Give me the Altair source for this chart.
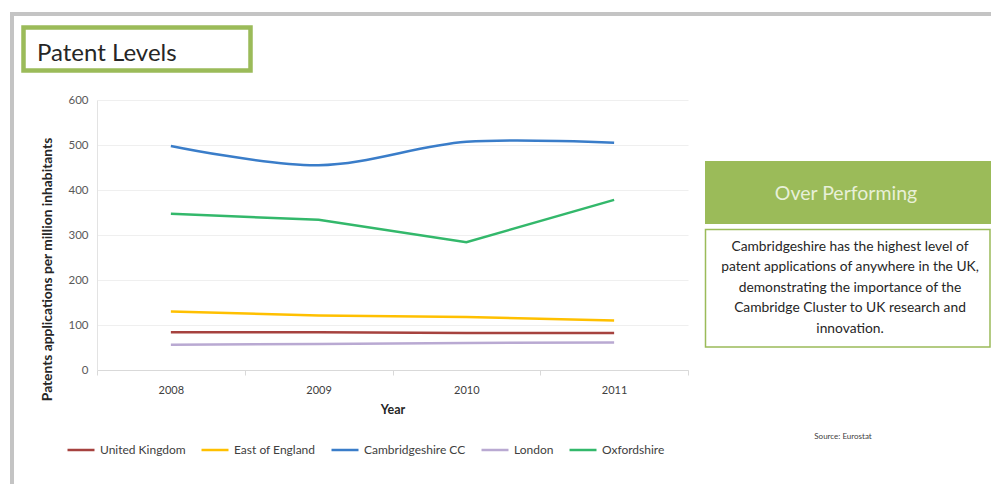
import altair as alt
import pandas as pd

FONT = "Lato"

years = ["2008", "2009", "2010", "2011"]
series_names = ["United Kingdom", "East of England", "Cambridgeshire CC", "London", "Oxfordshire"]
uk = [84, 84, 82, 82]
east = [130, 121, 118, 110]
cambs = [498, 455, 507, 505]
london = [56, 58, 60, 61]
oxford = [347, 334, 284, 378]
colors = ["#A6423F", "#FFC000", "#3A7DC9", "#B9A9D2", "#33B86B"]

y_ticks = [0, 100, 200, 300, 400, 500, 600]

title_text = "Patent Levels"
box_title = "Over Performing"
box_lines = [
    "Cambridgeshire has the highest level of",
    "patent applications of anywhere in the UK,",
    "demonstrating the importance of the",
    "Cambridge Cluster to UK research and",
    "innovation.",
]
source_text = "Source: Eurostat"

rows = []
for name, vals in zip(series_names, [uk, east, cambs, london, oxford]):
    for yr, v in zip(years, vals):
        rows.append({"year": yr, "series": name, "value": v})
df = pd.DataFrame(rows)

color_scale = alt.Scale(domain=series_names, range=colors)

x_enc = alt.X(
    "year:O",
    bandPosition=0.5,
    scale=alt.Scale(type="band", paddingInner=0, paddingOuter=0),
    axis=alt.Axis(
        title="Year", labelAngle=0, tickBand="extent", grid=False,
        domainColor="#D9D9D9", tickColor="#D9D9D9", tickSize=5,
        labelPadding=9, labelFontSize=11, labelColor="#404040", labelFont=FONT,
        titleFont=FONT, titleFontSize=12.5, titleFontWeight="bold", titleColor="#262626",
        titlePadding=8,
    ),
)
y_enc = alt.Y(
    "value:Q",
    scale=alt.Scale(domain=[0, 600], nice=False),
    axis=alt.Axis(
        title="Patents applications  per million inhabitants", values=y_ticks,
        grid=True, gridColor="#EFEFEF", domainColor="#E3E3E3", ticks=False,
        labelPadding=9, labelFontSize=11.5, labelColor="#595959", labelFont=FONT,
        titleFont=FONT, titleFontSize=13.8, titleFontWeight="bold", titleColor="#262626",
        titleAngle=-90, titleAlign="center", titleBaseline="bottom",
        titleX=-43, titleY=169,
    ),
)
color_enc = alt.Color(
    "series:N", scale=color_scale, sort=series_names,
    legend=alt.Legend(
        title=None, orient="none", direction="horizontal", legendX=-31, legendY=335,
        symbolType="stroke", symbolSize=729, symbolStrokeWidth=2.5,
        labelFont=FONT, labelFontSize=12, labelColor="#404040", labelOffset=4,
        columnPadding=10,
    ),
)

base = alt.Chart(df)
lines_straight = base.transform_filter(
    alt.datum.series != "Cambridgeshire CC"
).mark_line(strokeWidth=2.5).encode(x=x_enc, y=y_enc, color=color_enc)
lines_smooth = base.transform_filter(
    alt.datum.series == "Cambridgeshire CC"
).mark_line(strokeWidth=2.5, interpolate="catmull-rom").encode(x=x_enc, y=y_enc, color=color_enc)

one = pd.DataFrame({"k": [0]})
deco = alt.Chart(one)

border_top = deco.mark_rect(color="#C4C4C4").encode(
    x=alt.value(-87), x2=alt.value(900), y=alt.value(-88), y2=alt.value(-84))
border_left = deco.mark_rect(color="#C4C4C4").encode(
    x=alt.value(-87), x2=alt.value(-83), y=alt.value(-88), y2=alt.value(390))
title_box = deco.mark_rect(fill="white", stroke="#9BBB59", strokeWidth=4.5).encode(
    x=alt.value(-73.5), x2=alt.value(153.5), y=alt.value(-72.5), y2=alt.value(-29.5))
title_mark = deco.mark_text(
    align="left", baseline="alphabetic", font=FONT, fontSize=24, color="#262626"
).encode(x=alt.value(-60), y=alt.value(-39), text=alt.value(title_text))

perf_box = deco.mark_rect(fill="#9BBB59").encode(
    x=alt.value(608), x2=alt.value(894), y=alt.value(61), y2=alt.value(124))
perf_text = deco.mark_text(
    align="center", baseline="alphabetic", font=FONT, fontSize=19.5, color="#E8F0D8"
).encode(x=alt.value(749), y=alt.value(99.5), text=alt.value(box_title))
desc_box = deco.mark_rect(fill="white", stroke="#9BBB59", strokeWidth=1.5).encode(
    x=alt.value(608.5), x2=alt.value(893), y=alt.value(129.5), y2=alt.value(247))
desc_text = deco.mark_text(
    align="center", baseline="alphabetic", font=FONT, fontSize=13.8, color="#262626",
    lineHeight=20.4,
).encode(x=alt.value(753), y=alt.value(151), text=alt.value(box_lines))
source_mark = deco.mark_text(
    align="center", baseline="middle", font=FONT, fontSize=8, color="#404040"
).encode(x=alt.value(746), y=alt.value(337), text=alt.value(source_text))

chart = alt.layer(
    border_top, border_left, title_box, title_mark,
    lines_straight, lines_smooth,
    perf_box, perf_text, desc_box, desc_text, source_mark,
).properties(
    width=591, height=270,
    padding={"left": 89, "top": 92, "right": 303, "bottom": 114},
    autosize=alt.AutoSizeParams(type="none"),
    background="white",
).configure_view(stroke=None)

chart.save("out.html", embed_options={"renderer": "svg", "actions": False})
